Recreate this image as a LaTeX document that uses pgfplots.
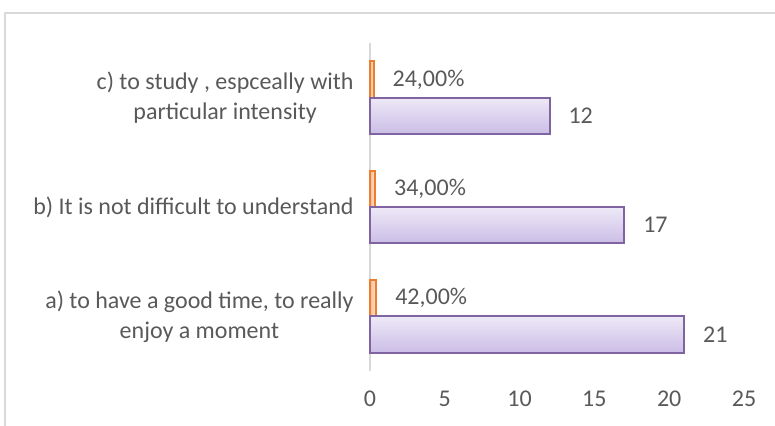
\documentclass[border=0pt]{standalone}
\usepackage{pgfplots}
\pgfplotsset{compat=1.18}
\usepackage{fontspec}
\setmainfont{Carlito}
\definecolor{txt}{RGB}{89,89,89}
\definecolor{framec}{RGB}{217,217,217}
\definecolor{purpedge}{RGB}{128,100,162}
\definecolor{purptop}{RGB}{238,233,247}
\definecolor{purpbot}{RGB}{203,189,230}
\definecolor{orgedge}{RGB}{237,125,49}
\definecolor{orgtop}{RGB}{252,228,210}
\definecolor{orgbot}{RGB}{247,190,150}

\pgfplotsset{
    pct/.style={xbar, bar shift=0.1667, draw=orgedge, line width=1pt,
        left color=orgbot, right color=orgtop,
        point meta=explicit symbolic, nodes near coords},
    cnt/.style={xbar, bar shift=-0.1667, draw=purpedge, line width=1pt,
        top color=purptop, bottom color=purpbot,
        point meta=explicit symbolic, nodes near coords},
}

\begin{document}
\fontsize{12}{15}\selectfont
\begin{tikzpicture}
\useasboundingbox (0,0) rectangle (387.5pt,212.5pt);
\draw[framec, line width=1pt] (2.5pt,-10pt) rectangle (400pt,206pt);
\begin{axis}[
    at={(185pt,27pt)}, anchor=south west,
    scale only axis,
    width=187pt, height=164pt,
    xmin=0, xmax=25,
    ymin=-0.5, ymax=2.5,
    axis x line*=bottom,
    axis y line*=left,
    x axis line style={draw=none},
    y axis line style={draw=framec, line width=1pt},
    major tick length=0pt,
    xtick={0,5,...,25},
    ytick={0,1,2},
    yticklabels={{a) to have a good time, to really\\enjoy a moment},
                 {b) It is not difficult to understand},
                 {c) to study , espceally with\\particular intensity}},
    yticklabel style={align=center, text=txt, xshift=-4pt},
    xticklabel style={text=txt, yshift=-6pt},
    /pgf/number format/assume math mode=true,
    every node near coord/.append style={text=txt, anchor=west, xshift=5pt},
    xbar, bar width=0.333,
    clip=false,
]
    % percentages (orange)
    \addplot[pct] coordinates {(0.42,0) [42,00\%]};
    \addplot[pct] coordinates {(0.34,1) [34,00\%]};
    \addplot[pct] coordinates {(0.24,2) [24,00\%]};
    % counts (purple)
    \addplot[cnt] coordinates {(21,0) [21]};
    \addplot[cnt] coordinates {(17,1) [17]};
    \addplot[cnt] coordinates {(12,2) [12]};
\end{axis}
\end{tikzpicture}
\end{document}
